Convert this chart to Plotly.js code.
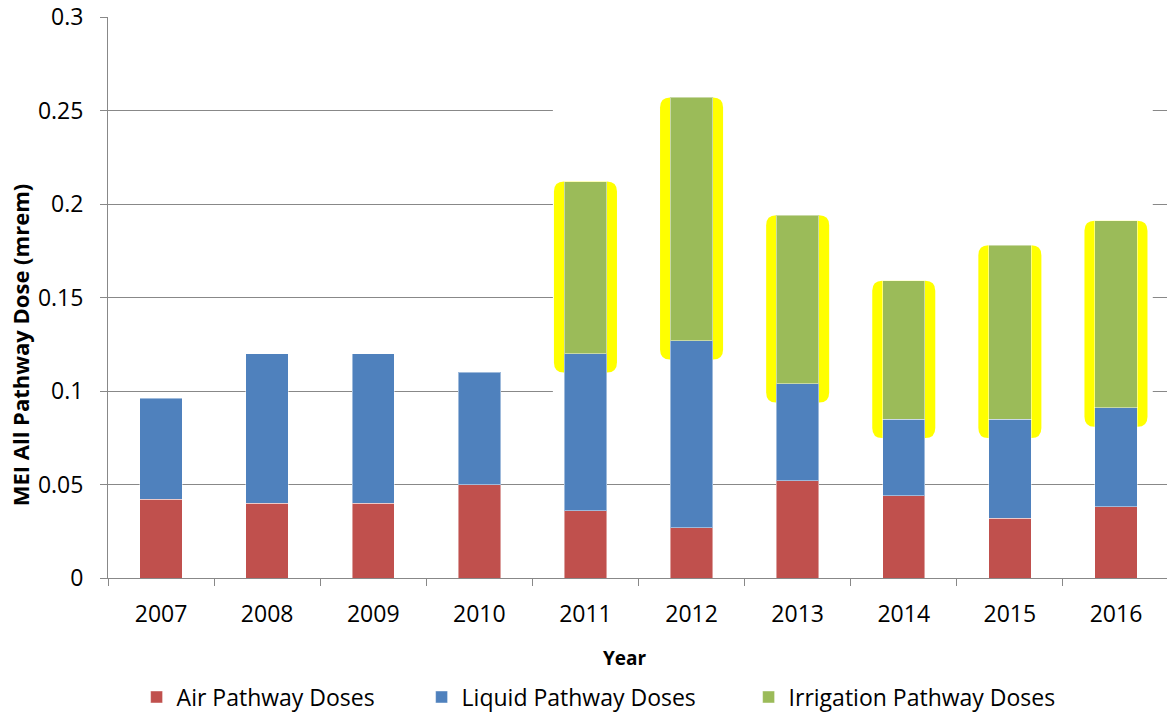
<!DOCTYPE html>
<html>
<head>
<meta charset="utf-8">
<script src="https://cdn.plot.ly/plotly-3.0.1.min.js"></script>
<style>
  html, body { margin: 0; padding: 0; background: #ffffff; }
  #chart { width: 1167px; height: 712px; }
</style>
</head>
<body>
<div id="chart"></div>
<script>
// Annual maximally exposed individual (MEI) dose by pathway, mrem
const years = ['2007', '2008', '2009', '2010', '2011', '2012', '2013', '2014', '2015', '2016'];
const airDose = [0.042, 0.040, 0.040, 0.050, 0.036, 0.027, 0.052, 0.044, 0.032, 0.038];
const liquidDose = [0.054, 0.080, 0.080, 0.060, 0.084, 0.100, 0.052, 0.041, 0.053, 0.053];
const irrigationDose = [0, 0, 0, 0, 0.092, 0.130, 0.090, 0.074, 0.093, 0.100];
const yTicks = [0, 0.05, 0.1, 0.15, 0.2, 0.25, 0.3];
const yTickText = ['0', '0.05', '0.1', '0.15', '0.2', '0.25', '0.3'];
const xTitle = 'Year';
const yTitle = 'MEI All Pathway Dose (mrem)';

const FONT = '"Open Sans", "Noto Sans", sans-serif';
const GRID = '#888888';
const EDGE = 'rgba(255,255,255,0.45)';

const traces = [
  {
    type: 'bar', name: 'Air Pathway Doses', x: years, y: airDose,
    marker: { color: '#C0504D', line: { color: EDGE, width: 1 } },
    legendwidth: 240
  },
  {
    type: 'bar', name: 'Liquid Pathway Doses', x: years, y: liquidDose,
    marker: { color: '#4F81BD', line: { color: EDGE, width: 1 } },
    legendwidth: 282
  },
  {
    type: 'bar', name: 'Irrigation Pathway Doses', x: years,
    y: irrigationDose.map(v => (v > 0 ? v : null)),
    marker: { color: '#9BBB59', line: { color: EDGE, width: 1 } }
  }
];

// Yellow rounded highlight behind each irrigation segment
const shapes = [];
const hl = irrigationDose.map((v, i) => (v > 0 ? i : -1)).filter(i => i >= 0);
const pxX = 106.1, pxY = 561 / 0.3;   // px per unit on each axis
const halfW = 0.297, rx = 10 / pxX, ry = 10 / pxY, below = 19 / pxY;

// gridlines are blanked out across the highlighted years
if (hl.length) {
  shapes.push({
    type: 'rect', layer: 'between', xref: 'x', yref: 'y',
    x0: hl[0] - halfW - 0.01, x1: hl[hl.length - 1] + halfW + 0.05,
    y0: 0.075, y1: 0.29,
    fillcolor: '#ffffff', line: { width: 0 }
  });
}
hl.forEach(i => {
  const base = airDose[i] + liquidDose[i];
  const top = base + irrigationDose[i];
  const x0 = i - halfW, x1 = i + halfW, y0 = base - below, y1 = top;
  const path =
    `M ${x0 + rx},${y1} L ${x1 - rx},${y1} Q ${x1},${y1} ${x1},${y1 - ry} ` +
    `L ${x1},${y0 + ry} Q ${x1},${y0} ${x1 - rx},${y0} ` +
    `L ${x0 + rx},${y0} Q ${x0},${y0} ${x0},${y0 + ry} ` +
    `L ${x0},${y1 - ry} Q ${x0},${y1} ${x0 + rx},${y1} Z`;
  shapes.push({
    type: 'path', layer: 'between', xref: 'x', yref: 'y', path: path,
    fillcolor: '#FFFF00', line: { width: 0 }
  });
});

const layout = {
  width: 1167, height: 712,
  margin: { l: 108, r: 0, t: 17, b: 134 },
  paper_bgcolor: '#ffffff', plot_bgcolor: '#ffffff',
  font: { family: FONT, color: '#000000', size: 23 },
  barmode: 'stack', bargap: 0.6,
  showlegend: true,
  xaxis: {
    type: 'category', range: [-0.5, 9.481],
    showline: true, linecolor: GRID, linewidth: 1,
    ticks: 'outside', tickson: 'boundaries', ticklen: 7, tickcolor: GRID, tickwidth: 1,
    ticklabelstandoff: 15,
    tickfont: { family: FONT, size: 23, color: '#000' },
    showgrid: false, zeroline: false, fixedrange: true,
    automargin: false
  },
  yaxis: {
    range: [0, 0.3],
    tickvals: yTicks, ticktext: yTickText,
    showline: true, linecolor: GRID, linewidth: 1,
    ticks: 'outside', ticklen: 7, tickcolor: GRID, tickwidth: 1,
    ticklabelstandoff: 12,
    tickfont: { family: FONT, size: 23, color: '#000' },
    showgrid: true, gridcolor: GRID, gridwidth: 1,
    zeroline: false, fixedrange: true,
    automargin: false
  },
  annotations: [
    {
      text: '<b>' + xTitle + '</b>', xref: 'paper', yref: 'paper',
      x: 0.488, y: -0.143, xanchor: 'center', yanchor: 'middle', showarrow: false,
      font: { family: FONT, size: 19, color: '#000' }
    },
    {
      text: '<b>' + yTitle + '</b>', xref: 'paper', yref: 'paper', textangle: -90,
      x: -0.083, y: 0.415, xanchor: 'center', yanchor: 'middle', showarrow: false,
      font: { family: FONT, size: 22, color: '#000' }
    }
  ],
  legend: {
    orientation: 'h', x: 0.027, xanchor: 'left',
    yref: 'container', y: 0.021, yanchor: 'middle',
    font: { family: FONT, size: 23, color: '#000' },
    bgcolor: 'rgba(0,0,0,0)', traceorder: 'normal', itemclick: false, itemdoubleclick: false
  },
  shapes: shapes
};

Plotly.newPlot('chart', traces, layout, { displayModeBar: false, staticPlot: true });
</script>
</body>
</html>
